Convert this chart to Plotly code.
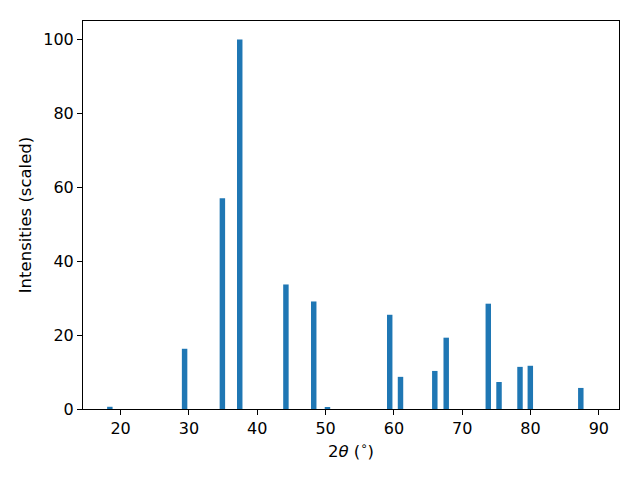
import plotly.graph_objects as go

two_theta = [18.43, 29.37, 34.9, 37.44, 44.2, 48.27, 50.28, 59.39, 60.97,
             65.99, 67.66, 73.82, 75.39, 78.46, 79.97, 87.36]
intensity = [0.6, 16.3, 57.0, 100.0, 33.7, 29.1, 0.3, 25.5, 8.7,
             10.3, 19.3, 28.5, 7.3, 11.4, 11.7, 5.7]

x_title = "2<i>θ</i> (<sup>∘</sup>)"
y_title = "Intensities (scaled)"

fig = go.Figure()
fig.add_trace(go.Bar(x=two_theta, y=intensity, width=0.8,
                     marker=dict(color="#1f77b4", line=dict(width=0))))

axis_common = dict(showline=True, linecolor="black", linewidth=1, mirror=True,
                   ticks="outside", ticklen=5, tickwidth=1, tickcolor="black",
                   showgrid=False, zeroline=False,
                   tickfont=dict(size=16, color="black"))

# page body has an 8px margin; compensate so the axes land where the reference has them
fig.update_layout(
    width=640, height=480,
    margin=dict(l=75, r=29, t=13, b=79, autoexpand=False),
    paper_bgcolor="white", plot_bgcolor="white",
    font=dict(family="DejaVu Sans", size=16, color="black"),
    showlegend=False,
    xaxis=dict(range=[14.5, 92.95], tickmode="array",
               tickvals=[20, 30, 40, 50, 60, 70, 80, 90],
               title=dict(text=x_title, font=dict(size=16.5), standoff=8),
               **axis_common),
    yaxis=dict(range=[0, 105], tickmode="array",
               tickvals=[0, 20, 40, 60, 80, 100],
               title=dict(text=y_title, font=dict(size=16.5), standoff=7),
               **axis_common),
)

fig.write_html("out.html")
